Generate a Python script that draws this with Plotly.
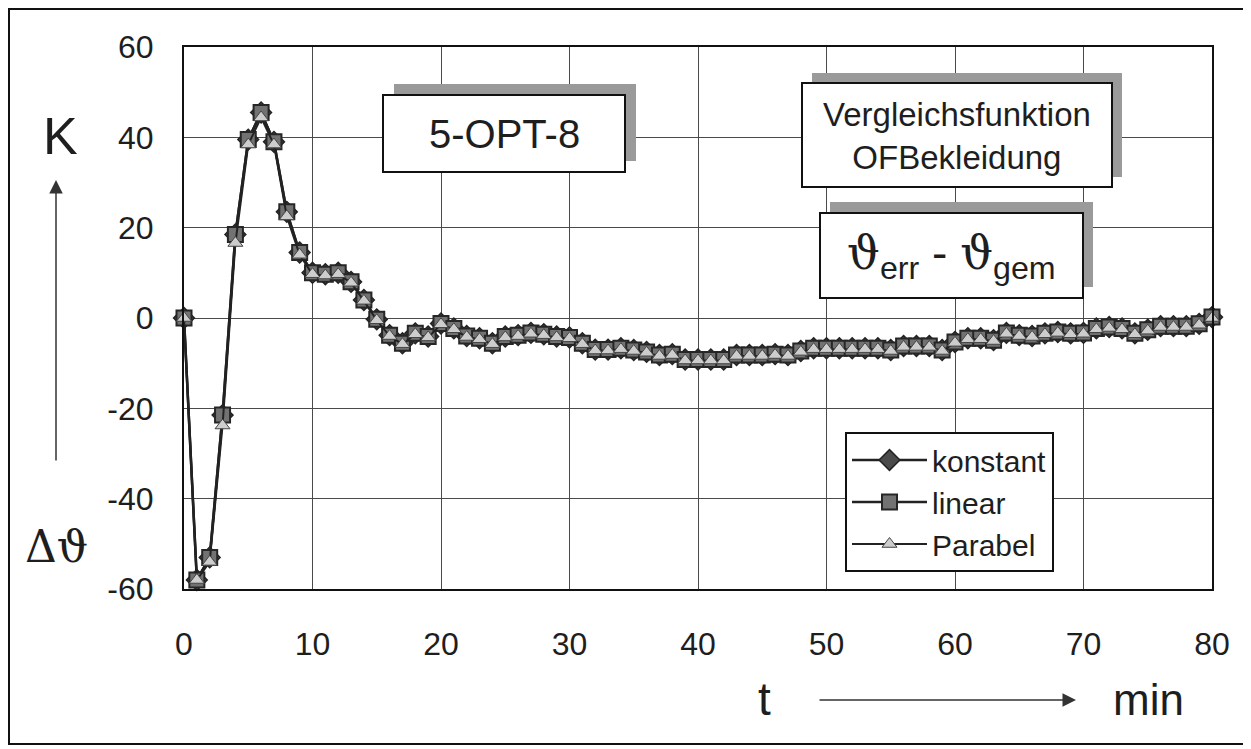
import plotly.graph_objects as go

# ---------------- data ----------------
t_min = list(range(0, 81))

konstant = [0, -58, -53, -21.5, 18.5, 39.5, 45.5, 39, 23.5, 14.5,
            10, 9.7, 10, 8, 4, -0.3, -3.8, -5.6, -3.4, -4.1,
            -1.2, -2.3, -4, -4.5, -5.6, -4.1, -3.8, -3.3, -3.6, -4.1,
            -4.3, -5.6, -7, -7, -6.7, -7.1, -7.5, -8.2, -8, -9.2,
            -9.2, -9.2, -9.2, -8.2, -8.2, -8.2, -8, -8.2, -7.3, -6.7,
            -6.7, -6.7, -6.7, -6.7, -6.7, -7.1, -6.2, -6.2, -6.2, -7.1,
            -5.3, -4.5, -4.5, -4.9, -3.3, -3.8, -4, -3.4, -3.1, -3.4,
            -3.3, -2.3, -2, -2.3, -3.4, -2.6, -1.8, -1.8, -1.8, -1.3,
            0.2]

linear = [0, -58, -53, -21.5, 18.5, 39.5, 45.5, 39, 23.5, 14.5,
          10, 9.7, 10, 8, 4, -0.3, -3.8, -5.6, -3.4, -4.1,
          -1.2, -2.3, -4, -4.5, -5.6, -4.1, -3.8, -3.3, -3.6, -4.1,
          -4.3, -5.6, -7, -7, -6.7, -7.1, -7.5, -8.2, -8, -9.2,
          -9.2, -9.2, -9.2, -8.2, -8.2, -8.2, -8, -8.2, -7.3, -6.7,
          -6.7, -6.7, -6.7, -6.7, -6.7, -7.1, -6.2, -6.2, -6.2, -7.1,
          -5.3, -4.5, -4.5, -4.9, -3.3, -3.8, -4, -3.4, -3.1, -3.4,
          -3.3, -2.3, -2, -2.3, -3.4, -2.6, -1.8, -1.8, -1.8, -1.3,
          0.2]

parabel = [0, -58, -54, -23.8, 16.6, 38.4, 44.4, 38.4, 22.5, 14,
           9.7, 9.4, 9.7, 7.8, 3.8, -0.5, -4, -5.8, -3.6, -4.3,
           -1.4, -2.5, -4.2, -4.7, -5.8, -4.3, -4, -3.5, -3.8, -4.3,
           -4.5, -5.8, -7.2, -7.2, -6.9, -7.3, -7.7, -8.4, -8.2, -9.4,
           -9.4, -9.4, -9.4, -8.4, -8.4, -8.4, -8.2, -8.4, -7.5, -6.9,
           -6.9, -6.9, -6.9, -6.9, -6.9, -7.3, -6.4, -6.4, -6.4, -7.3,
           -5.5, -4.7, -4.7, -5.1, -3.5, -4, -4.2, -3.6, -3.3, -3.6,
           -3.5, -2.5, -2.2, -2.5, -3.6, -2.8, -2.0, -2.0, -2.0, -1.5,
           0.0]

series_names = ["konstant", "linear", "Parabel"]
x_ticks = [0, 10, 20, 30, 40, 50, 60, 70, 80]
y_ticks = [-60, -40, -20, 0, 20, 40, 60]

# ---------------- layout helpers ----------------
# The page body has an 8px margin, so the figure is drawn 8px right/down.
OFF = 8
W, H = 1251 - OFF, 749 - OFF
L, R, T, B = 184, 1212, 47, 589          # plot area in page pixels


def px(x):
    return (x - L) / (R - L)


def py(y):
    return (B - y) / (B - T)


SANS = "Liberation Sans, Arial, sans-serif"
SERIF = "DejaVu Serif, Liberation Serif, serif"
INK = "#1e1e1e"

fig = go.Figure()

fig.add_trace(go.Scatter(
    x=t_min, y=konstant, name=series_names[0], mode="lines+markers",
    cliponaxis=False,
    line=dict(color="#222222", width=2.5),
    marker=dict(symbol="diamond", size=16, color="#4a4a4a",
                line=dict(color="#222222", width=1.5)),
))
fig.add_trace(go.Scatter(
    x=t_min, y=linear, name=series_names[1], mode="lines+markers",
    cliponaxis=False,
    line=dict(color="#222222", width=2.5),
    marker=dict(symbol="square", size=15, color="#727272",
                line=dict(color="#262626", width=2)),
))
fig.add_trace(go.Scatter(
    x=t_min, y=parabel, name=series_names[2], mode="lines+markers",
    cliponaxis=False,
    line=dict(color="#222222", width=2),
    marker=dict(symbol="triangle-up", size=13, color="#cdcdcd",
                line=dict(color="#444444", width=1)),
))

fig.update_xaxes(
    range=[0, 80], tickvals=x_ticks, ticktext=[str(v) for v in x_ticks],
    showgrid=True, gridcolor="#4a4a4a", gridwidth=1,
    showline=True, linecolor="#111111", linewidth=2, mirror=True,
    zeroline=False, ticks="", ticklabelstandoff=26,
    tickfont=dict(family=SANS, size=32, color=INK),
)
fig.update_yaxes(
    range=[-60, 60], tickvals=y_ticks, ticktext=[str(v) for v in y_ticks],
    showgrid=True, gridcolor="#4a4a4a", gridwidth=1,
    showline=True, linecolor="#111111", linewidth=2, mirror=True,
    zeroline=False, ticks="", ticklabelstandoff=22,
    tickfont=dict(family=SANS, size=32, color=INK),
)

shapes = []
# outer frame
shapes.append(dict(type="rect", xref="paper", yref="paper",
                   x0=px(9), x1=px(1245), y0=py(744), y1=py(9),
                   line=dict(color="#111111", width=2), layer="above"))


def box(x0, y0, x1, y1, dx, dy):
    # shadow then white box
    shapes.append(dict(type="rect", xref="paper", yref="paper",
                       x0=px(x0 + dx), x1=px(x1 + dx), y0=py(y1 + dy), y1=py(y0 + dy),
                       fillcolor="#9a9a9a", line=dict(width=0), layer="above"))
    shapes.append(dict(type="rect", xref="paper", yref="paper",
                       x0=px(x0), x1=px(x1), y0=py(y1), y1=py(y0),
                       fillcolor="white", line=dict(color="#111111", width=2),
                       layer="above"))


box(383, 95, 625, 172, 11, -11)
box(802, 83, 1112, 187, 10, -10)
box(820, 213, 1083, 298, 10, -11)

annotations = []
# x-axis arrow (tip at right)
annotations.append(dict(xref="paper", yref="paper", x=px(1076), y=py(700),
                        ax=-258, ay=0, text="", showarrow=True, arrowhead=2,
                        arrowsize=1.8, arrowwidth=1.5, arrowcolor="#333333"))
# y-axis arrow (tip at top)
annotations.append(dict(xref="paper", yref="paper", x=px(56), y=py(180),
                        ax=0, ay=282, text="", showarrow=True, arrowhead=2,
                        arrowsize=1.8, arrowwidth=1.5, arrowcolor="#333333"))


def label(x, y, text, family, size):
    annotations.append(dict(xref="paper", yref="paper", x=px(x), y=py(y),
                            xanchor="center", yanchor="middle",
                            text=text, showarrow=False,
                            font=dict(family=family, size=size, color=INK)))


label(60, 136, "K", SANS, 52)
label(56, 546, "Δϑ", SERIF, 44)
label(764, 699, "t", SANS, 46)
label(1148, 699, "min", SANS, 44)
label(504, 134, "5-OPT-8", SANS, 40)
label(957, 136, "Vergleichsfunktion<br>OFBekleidung", SANS, 33)
label(951, 256,
      "<span style='font-family:DejaVu Serif'>ϑ</span><sub>err</sub>"
      " - <span style='font-family:DejaVu Serif'>ϑ</span><sub>gem</sub>",
      SANS, 46)

fig.update_layout(
    width=W, height=H,
    margin=dict(l=L - OFF, r=W - (R - OFF), t=T - OFF, b=H - (B - OFF)),
    paper_bgcolor="white", plot_bgcolor="white",
    shapes=shapes, annotations=annotations,
    showlegend=True,
    legend=dict(x=px(845), y=py(432), xanchor="left", yanchor="top",
                bgcolor="white", bordercolor="#111111", borderwidth=2,
                font=dict(family=SANS, size=30, color=INK),
                itemwidth=75, tracegroupgap=0),
)

fig.write_html("out.html")
